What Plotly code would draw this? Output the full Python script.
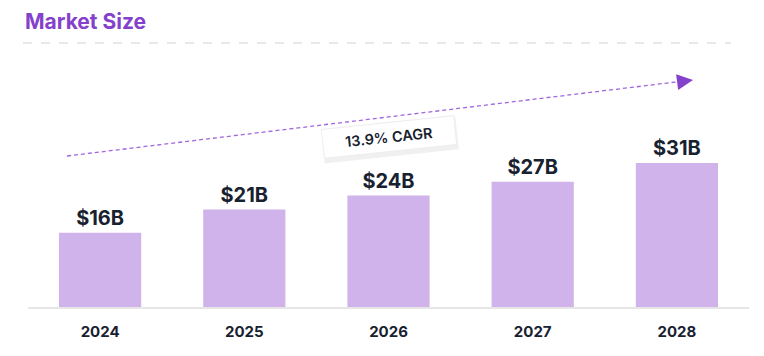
import plotly.graph_objects as go

years = ["2024", "2025", "2026", "2027", "2028"]
market_size_b = [16, 21, 24, 27, 31]
value_labels = ["$16B", "$21B", "$24B", "$27B", "$31B"]
title_text = "Market Size"
cagr_text = "13.9% CAGR"

FONT = "Inter, 'Open Sans', sans-serif"
DARK = "#17212f"
PURPLE = "#8441cc"
BAR = "#d0b3ea"

W, H = 764, 356
L, R, T, B = 28, 15, 60, 49
pw, ph = W - L - R, H - T - B


def px(x):
    return (x - L) / pw


def py(y):
    return (H - B - y) / ph


fig = go.Figure()
fig.add_trace(go.Bar(
    x=years, y=market_size_b, text=value_labels,
    textposition="outside", cliponaxis=False,
    textfont=dict(family=FONT, size=20, color=DARK, weight=700),
    marker=dict(color=BAR, line=dict(width=0)),
    width=0.57, hoverinfo="skip",
))

fig.update_layout(
    width=W, height=H,
    margin=dict(l=L, r=R, t=T, b=B),
    paper_bgcolor="white", plot_bgcolor="white",
    showlegend=False,
    title=dict(text=title_text, x=25 / W, xref="container", xanchor="left",
               y=1 - 22 / H, yref="container", yanchor="middle",
               font=dict(family=FONT, size=21, color=PURPLE, weight=700)),
    xaxis=dict(showgrid=False, zeroline=False, showline=True,
               linecolor="#e6e6e6", linewidth=1.5,
               ticks="outside", ticklen=10, tickcolor="rgba(0,0,0,0)",
               tickfont=dict(family=FONT, size=15, color=DARK, weight=700)),
    yaxis=dict(range=[0, 53.2], visible=False, showgrid=False, zeroline=False),
)

# dashed rule under title
fig.add_shape(type="line", xref="paper", yref="paper",
              x0=px(23), x1=px(731), y0=py(43), y1=py(43),
              line=dict(color="#e8e8e8", width=2, dash="dash"))

# CAGR dashed trend arrow
fig.add_shape(type="line", xref="paper", yref="paper",
              x0=px(67), y0=py(156), x1=px(684), y1=py(81),
              line=dict(color="#a066e0", width=1.3, dash="4px,3px"))
fig.add_annotation(xref="paper", yref="paper", x=px(693), y=py(80),
                   ax=-10, ay=1.3, text="", showarrow=True,
                   arrowhead=2, arrowsize=1.6, arrowwidth=2, arrowcolor=PURPLE)

# CAGR label box with soft shadow
cx, cy = px(389), py(115)
fig.add_annotation(xref="paper", yref="paper", x=cx, y=cy, xshift=0.5, yshift=-1.5,
                   text=cagr_text, showarrow=False, textangle=-6,
                   width=132, height=29, bgcolor="rgba(0,0,0,0.06)",
                   font=dict(family=FONT, size=14, color="rgba(0,0,0,0)", weight=600))
fig.add_annotation(xref="paper", yref="paper", x=cx, y=cy,
                   text=cagr_text, showarrow=False, textangle=-6,
                   width=130, height=26, bgcolor="white",
                   bordercolor="#eeeeee", borderwidth=1,
                   font=dict(family=FONT, size=14.5, color=DARK, weight=600))

fig.write_html("out.html", config={"displayModeBar": False},
               post_script="document.body.style.margin='0';document.body.style.overflow='hidden';")
